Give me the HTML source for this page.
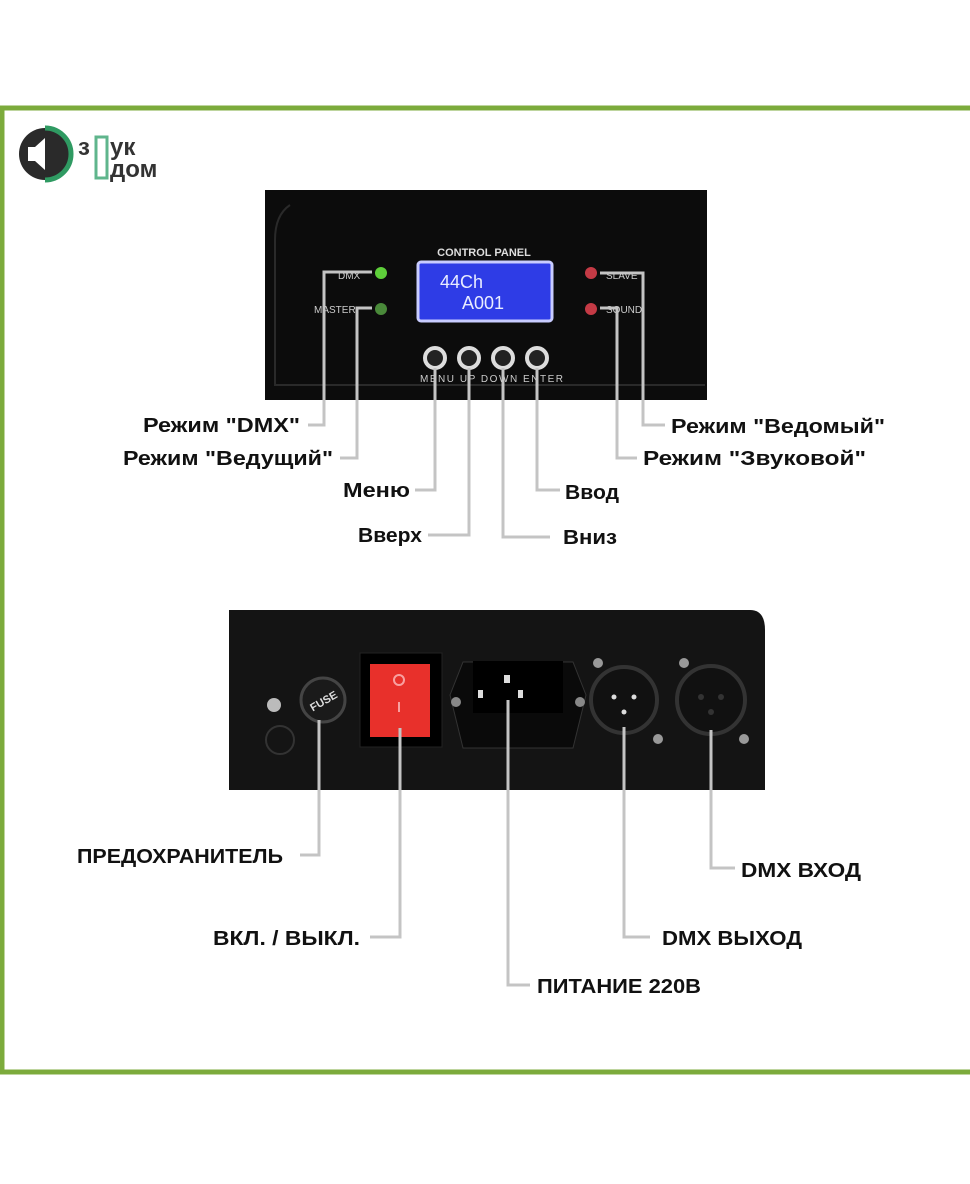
<!DOCTYPE html>
<html><head><meta charset="utf-8"><style>
body{margin:0;background:#fff}
svg{display:block}
text{font-family:"Liberation Sans","DejaVu Sans",sans-serif}
.l{font-weight:bold;font-size:20px;fill:#111}
.c{stroke:#c4c4c4;stroke-width:3;fill:none}
</style></head><body>
<svg width="970" height="1184" viewBox="0 0 970 1184">
<rect width="970" height="1184" fill="#fff"/>
<rect x="2" y="108" width="975" height="964" fill="none" stroke="#7cab3c" stroke-width="5"/>
<!-- logo -->
<circle cx="45" cy="154" r="26" fill="#2a2a2a"/>
<path d="M45 128 A26 26 0 0 1 45 180" fill="none" stroke="#2f9a62" stroke-width="5"/>
<polygon points="28,147 35,147 45,138 45,170 35,161 28,161" fill="#fff"/>
<text x="78" y="155" font-size="24" font-weight="bold" fill="#333">з</text>
<rect x="96" y="137" width="11" height="41" fill="none" stroke="#5fb58c" stroke-width="3"/>
<text x="110" y="155" font-size="24" font-weight="bold" fill="#333">ук</text>
<text x="110" y="177" font-size="24" font-weight="bold" fill="#333">дом</text>
<!-- top panel -->
<rect x="265" y="190" width="442" height="210" fill="#0c0c0c"/>
<path d="M290 205 Q275 215 275 240 L275 385 L705 385" fill="none" stroke="#2a2a2a" stroke-width="2"/>
<text x="484" y="256" font-size="11" font-weight="bold" fill="#ddd" text-anchor="middle">CONTROL PANEL</text>
<rect x="418" y="262" width="134" height="59" rx="3" fill="#2e3ce6" stroke="#c8ccff" stroke-width="3"/>
<text x="440" y="288" font-size="18" fill="#e8ecff" font-family="Liberation Mono">44Ch</text>
<text x="462" y="309" font-size="18" fill="#e8ecff" font-family="Liberation Mono">A001</text>
<text x="338" y="279" font-size="10" fill="#ccc">DMX</text>
<text x="314" y="313" font-size="10" fill="#ccc">MASTER</text>
<circle cx="381" cy="273" r="6" fill="#5ecf3a"/>
<circle cx="381" cy="309" r="6" fill="#4a8a3a"/>
<circle cx="591" cy="273" r="6" fill="#c43a45"/>
<circle cx="591" cy="309" r="6" fill="#c43a45"/>
<text x="606" y="279" font-size="10" fill="#ccc">SLAVE</text>
<text x="606" y="313" font-size="10" fill="#ccc">SOUND</text>
<g fill="#222" stroke="#ddd" stroke-width="4">
<circle cx="435" cy="358" r="10"/><circle cx="469" cy="358" r="10"/><circle cx="503" cy="358" r="10"/><circle cx="537" cy="358" r="10"/></g>
<text x="420" y="382" font-size="10" fill="#ccc" textLength="143" lengthAdjust="spacing">MENU UP DOWN ENTER</text>
<!-- top connectors -->
<path class="c" d="M372 272 H324 V425 H308"/>
<path class="c" d="M372 308 H357 V458 H340"/>
<path class="c" d="M435 368 V490 H415"/>
<path class="c" d="M469 368 V535 H428"/>
<path class="c" d="M503 368 V537 H550"/>
<path class="c" d="M537 368 V490 H560"/>
<path class="c" d="M600 308 H617 V458 H637"/>
<path class="c" d="M600 273 H643 V425 H665"/>
<text class="l" x="143" y="432" textLength="157" lengthAdjust="spacingAndGlyphs">Режим "DMX"</text>
<text class="l" x="123" y="465" textLength="210" lengthAdjust="spacingAndGlyphs">Режим "Ведущий"</text>
<text class="l" x="343" y="497" textLength="67" lengthAdjust="spacingAndGlyphs">Меню</text>
<text class="l" x="358" y="542" textLength="64" lengthAdjust="spacingAndGlyphs">Вверх</text>
<text class="l" x="565" y="499" textLength="54" lengthAdjust="spacingAndGlyphs">Ввод</text>
<text class="l" x="563" y="544" textLength="54" lengthAdjust="spacingAndGlyphs">Вниз</text>
<text class="l" x="671" y="433" textLength="214" lengthAdjust="spacingAndGlyphs">Режим "Ведомый"</text>
<text class="l" x="643" y="465" textLength="223" lengthAdjust="spacingAndGlyphs">Режим "Звуковой"</text>
<!-- bottom panel -->
<path d="M229 610 H750 Q765 610 765 630 V790 H229 Z" fill="#141414"/>
<circle cx="274" cy="705" r="7" fill="#bbb"/>
<circle cx="280" cy="740" r="14" fill="none" stroke="#333" stroke-width="2"/>
<circle cx="323" cy="700" r="22" fill="#1a1a1a" stroke="#444" stroke-width="3"/>
<text x="323" y="705" font-size="11" font-weight="bold" fill="#ddd" text-anchor="middle" transform="rotate(-30 323 700)">FUSE</text>
<rect x="360" y="653" width="82" height="94" fill="#000" stroke="#222"/>
<rect x="370" y="664" width="60" height="73" fill="#e8302b"/>
<circle cx="399" cy="680" r="5" fill="none" stroke="#f8a0a0" stroke-width="2"/>
<line x1="399" y1="702" x2="399" y2="712" stroke="#f8a0a0" stroke-width="2"/>
<polygon points="463,662 573,662 586,695 573,748 463,748 450,695" fill="#0a0a0a" stroke="#333"/>
<rect x="473" y="661" width="90" height="52" fill="#000"/>
<circle cx="456" cy="702" r="5" fill="#888"/><circle cx="580" cy="702" r="5" fill="#888"/>
<rect x="504" y="675" width="6" height="8" fill="#ddd"/><rect x="478" y="690" width="5" height="8" fill="#ddd"/><rect x="518" y="690" width="5" height="8" fill="#ddd"/>
<circle cx="624" cy="700" r="33" fill="#111" stroke="#333" stroke-width="4"/>
<circle cx="711" cy="700" r="34" fill="#111" stroke="#333" stroke-width="4"/>
<circle cx="598" cy="663" r="5" fill="#999"/><circle cx="658" cy="739" r="5" fill="#999"/>
<circle cx="684" cy="663" r="5" fill="#999"/><circle cx="744" cy="739" r="5" fill="#999"/>
<g fill="#ddd"><circle cx="614" cy="697" r="2.5"/><circle cx="634" cy="697" r="2.5"/><circle cx="624" cy="712" r="2.5"/></g>
<g fill="#333"><circle cx="701" cy="697" r="3"/><circle cx="721" cy="697" r="3"/><circle cx="711" cy="712" r="3"/></g>
<!-- bottom connectors -->
<path class="c" d="M319 720 V855 H300"/>
<path class="c" d="M400 728 V937 H370"/>
<path class="c" d="M508 700 V985 H530"/>
<path class="c" d="M624 727 V937 H650"/>
<path class="c" d="M711 730 V868 H735"/>
<text class="l" x="77" y="863" textLength="206" lengthAdjust="spacingAndGlyphs">ПРЕДОХРАНИТЕЛЬ</text>
<text class="l" x="213" y="945" textLength="147" lengthAdjust="spacingAndGlyphs">ВКЛ. / ВЫКЛ.</text>
<text class="l" x="537" y="993" textLength="164" lengthAdjust="spacingAndGlyphs">ПИТАНИЕ 220В</text>
<text class="l" x="662" y="945" textLength="140" lengthAdjust="spacingAndGlyphs">DMX ВЫХОД</text>
<text class="l" x="741" y="877" textLength="120" lengthAdjust="spacingAndGlyphs">DMX ВХОД</text>
</svg>
</body></html>
